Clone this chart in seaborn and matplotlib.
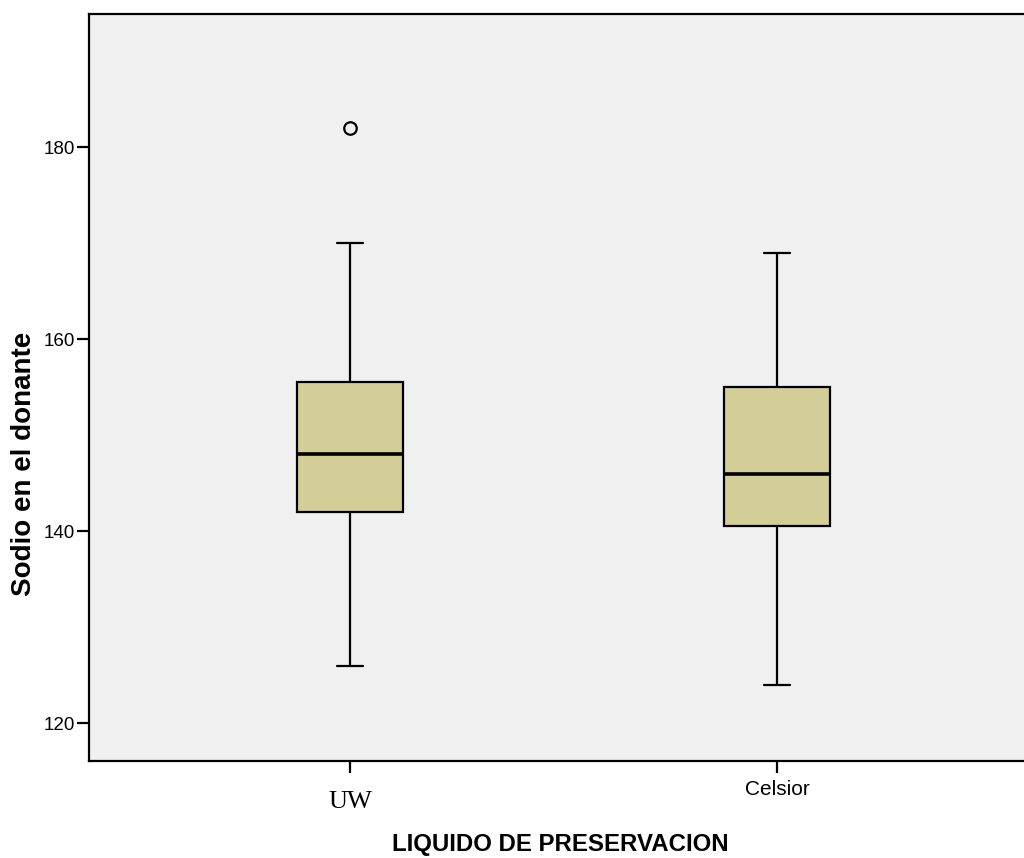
import matplotlib
matplotlib.use("Agg")
import matplotlib.pyplot as plt
import seaborn as sns
import pandas as pd

# Valores (SPSS)
groups = ["UW", "Celsior"]
whisker_low = [126, 124]
q1 = [142, 140.5]
median = [148, 146]
q3 = [155.5, 155]
whisker_high = [170, 169]
outliers = [[182], []]

# tabla larga para seaborn: los cuartiles repetidos reproducen las estadisticas
rows = []
for g, lo, a, m, b, hi, out in zip(groups, whisker_low, q1, median, q3, whisker_high, outliers):
    for v in [lo, a, a, m, m, b, b, hi] + out:
        rows.append({"liquido": g, "sodio": v})
df = pd.DataFrame(rows)

sns.set_theme(style="ticks")
plt.rcParams["font.family"] = ["Liberation Sans", "DejaVu Sans"]
plt.rcParams["text.color"] = "black"
plt.rcParams["axes.labelcolor"] = "black"
plt.rcParams["xtick.labelcolor"] = "black"
plt.rcParams["ytick.labelcolor"] = "black"

fig = plt.figure(figsize=(10.24, 8.58), dpi=100)
ax = fig.add_axes([89 / 1024, 1 - 761 / 858, (1038 - 89) / 1024, (761 - 14) / 858])
ax.set_facecolor("#F0F0F0")

sns.boxplot(data=df, x="liquido", y="sodio", order=groups, width=0.25,
            color="#D3CE98", saturation=1, linecolor="black", linewidth=1.6,
            fliersize=9,
            flierprops=dict(marker="o", markerfacecolor="none",
                            markeredgecolor="black", markeredgewidth=1.6),
            medianprops=dict(linewidth=2.6, color="black"),
            capwidths=0.0625, ax=ax)

ax.set_xlim(-0.611, 1.611)
ax.set_ylim(116.08, 193.85)
ax.set_yticks([120, 140, 160, 180])

for side in ["left", "bottom", "top", "right"]:
    ax.spines[side].set_visible(True)
    ax.spines[side].set_color("black")
    ax.spines[side].set_linewidth(1.6)

ax.tick_params(axis="both", direction="out", length=8.6, width=1.6, color="black")
ax.tick_params(axis="y", labelsize=13.5, pad=1.5)
ax.tick_params(axis="x", pad=5)

ax.set_xticks([0, 1])
ax.set_xticklabels(groups)
labels = ax.get_xticklabels()
labels[0].set_fontfamily("Liberation Serif")
labels[0].set_fontsize(19)
labels[1].set_fontsize(15)
ticks = ax.xaxis.get_major_ticks()
ticks[0].set_pad(13)

ax.set_xlabel("LIQUIDO DE PRESERVACION", fontsize=17.3, fontweight="bold")
ax.set_ylabel("Sodio en el donante", fontsize=20, fontweight="bold")
ax.xaxis.set_label_coords((560 - 89) / 949, (761 - 833) / 747)
ax.yaxis.set_label_coords((37 - 89) / 949, (761 - 463.5) / 747)

fig.savefig("out.png", dpi=100)
